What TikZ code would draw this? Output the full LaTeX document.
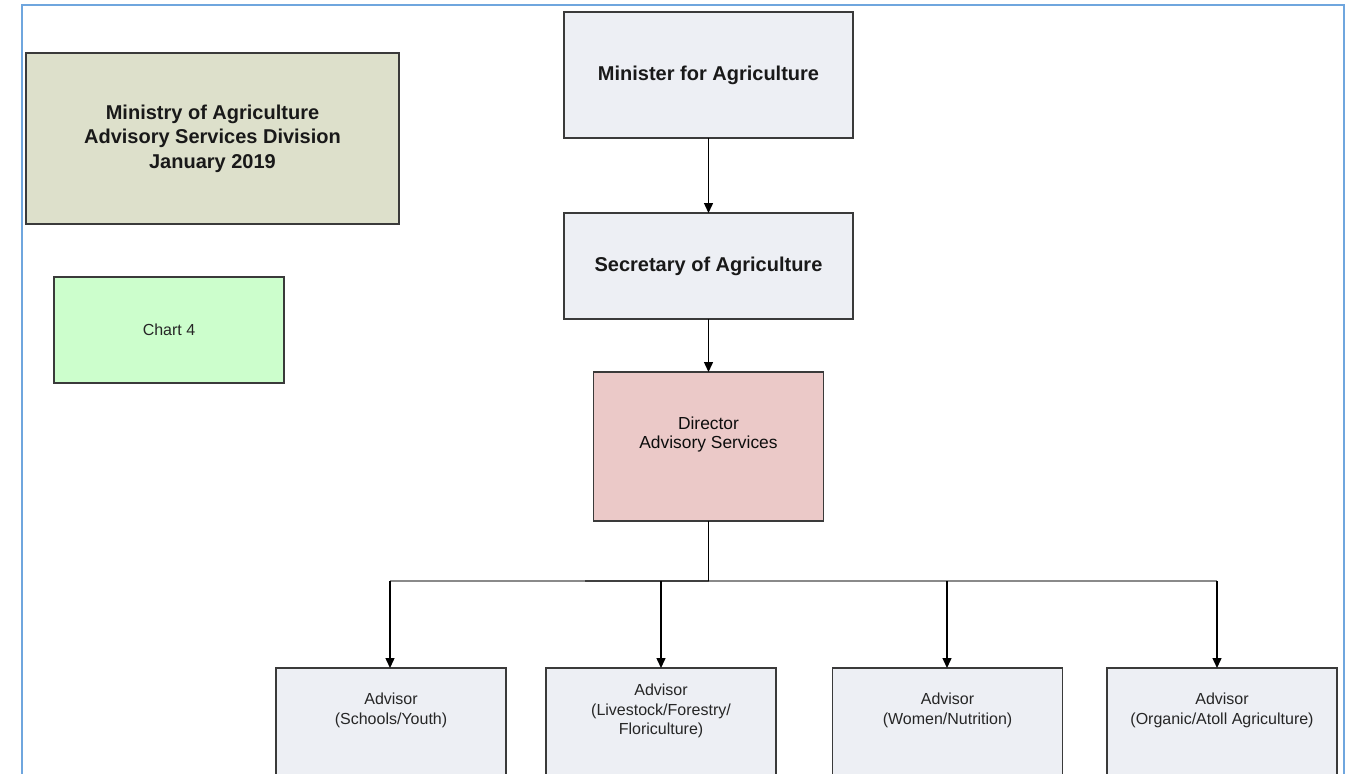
\documentclass[tikz,border=0pt]{standalone}
\usepackage{fontspec}
\setmainfont{Liberation Sans}
\usetikzlibrary{arrows.meta}
\definecolor{framebl}{HTML}{6FA6DE}
\definecolor{khaki}{HTML}{DDE0CB}
\definecolor{mint}{HTML}{CCFECC}
\definecolor{paleblue}{HTML}{EDEFF4}
\definecolor{rose}{HTML}{EBC9C8}
\definecolor{edge}{HTML}{3A3A3A}
\definecolor{busgray}{HTML}{8A8A8A}
\begin{document}
\begin{tikzpicture}[x=0.5pt,y=-0.5pt,
  box/.style={draw=edge, line width=0.9pt, inner sep=0pt, outer sep=0pt},
  heading/.style={font=\fontsize{10}{12.25}\selectfont\bfseries, align=center, text=black!90},
  small/.style={font=\fontsize{8}{9.8}\selectfont, align=center, text=black!85},
  link/.style={line width=0.7pt, -{Triangle[length=5pt,width=4.5pt]}},
]
\useasboundingbox (0,0) rectangle (1360,773);
\clip (0,0) rectangle (1360,773);
\fill[white] (0,0) rectangle (1360,773);

% page frame
\draw[framebl, line width=1.1pt] (22,5) rectangle (1344,820);

% title and chart label
\node[box, fill=khaki, minimum width=186.5pt, minimum height=85.5pt, heading]
  (title) at (212.5,138.5) {Ministry of Agriculture\\Advisory Services Division\\January 2019};
\node[box, fill=mint, minimum width=115pt, minimum height=53pt, small]
  (chart) at (169,330) {Chart 4};

% top of the hierarchy
\node[box, fill=paleblue, minimum width=144.5pt, minimum height=63pt, heading]
  (minister) at (708.5,75) {Minister for Agriculture};
\node[box, fill=paleblue, minimum width=144.5pt, minimum height=53pt, heading]
  (secretary) at (708.5,266) {Secretary of Agriculture};
\node[box, fill=rose, minimum width=115pt, minimum height=74.5pt]
  (director) at (708.5,446.5) {};
\node[font=\fontsize{8.7}{9.5}\selectfont, align=center, text=black!95]
  (directortext) at (708.5,434.5) {Director\\Advisory Services};

% advisors
\foreach \n/\cx in {a1/391, a2/661, a3/947.5, a4/1222}{
  \node[box, fill=paleblue, minimum width=115pt, minimum height=81pt, anchor=north]
    (\n) at (\cx,668) {};
}
\node[small] (a1text) at (391,710.5) {Advisor\\(Schools/Youth)};
\node[small] (a2text) at (661,711) {Advisor\\(Livestock/Forestry/\\Floriculture)};
\node[small] (a3text) at (947.5,710.5) {Advisor\\(Women/Nutrition)};
\node[small] (a4text) at (1222,710.5) {Advisor\\(Organic/Atoll Agriculture)};

% connectors
\draw[link] (minister.south) -- (secretary.north);
\draw[link] (secretary.south) -- (director.north);

\coordinate (busL) at (390,581);
\coordinate (busR) at (1217,581);
\coordinate (busA) at (585,581);
\coordinate (b1) at (390,581);
\coordinate (b2) at (661,581);
\coordinate (b3) at (947,581);
\coordinate (b4) at (1217,581);

\draw[busgray, line width=0.8pt] (busL) -- (busR);
\draw[black!75, line width=1.1pt] (busA) -- (director.south |- busL);
\draw[line width=0.7pt] (director.south) -- (director.south |- busL);
\draw[link] (b1) -- (b1 |- a1.north);
\draw[link] (b2) -- (b2 |- a2.north);
\draw[link] (b3) -- (b3 |- a3.north);
\draw[link] (b4) -- (b4 |- a4.north);
\end{tikzpicture}
\end{document}
